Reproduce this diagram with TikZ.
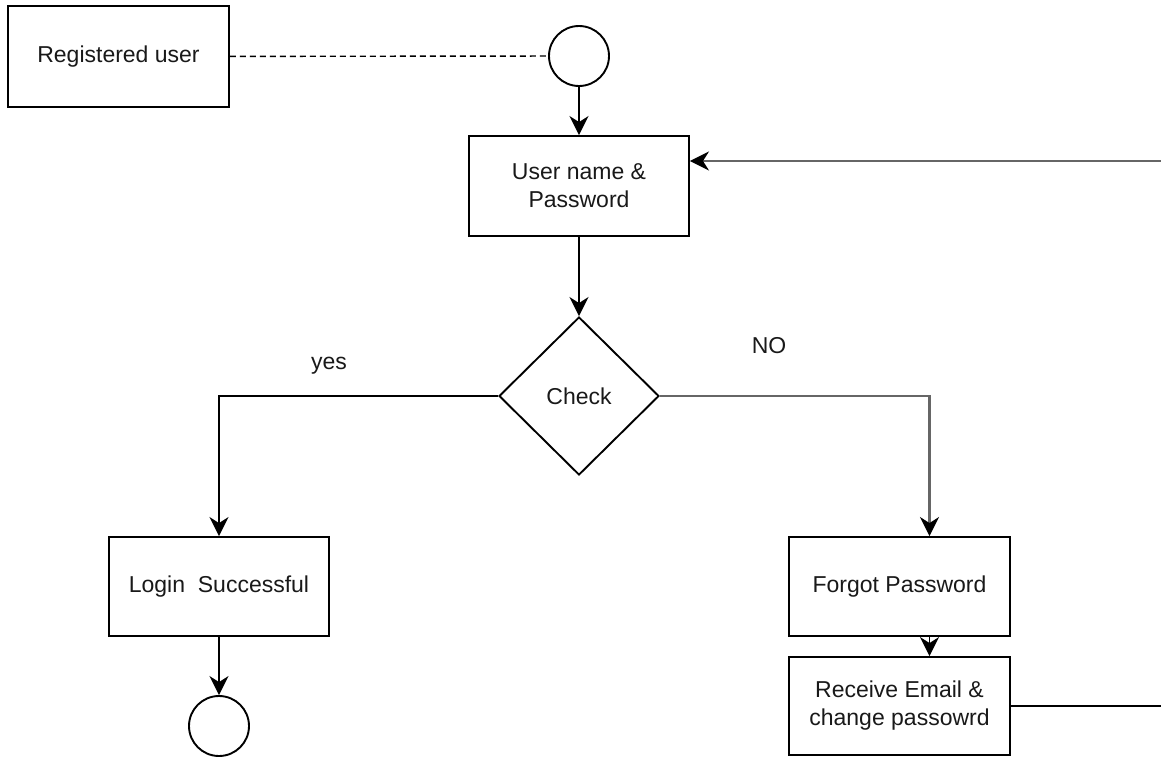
\documentclass[tikz,border=0pt]{standalone}
\usepackage{fontspec}
\setmainfont{Liberation Sans}
\usetikzlibrary{shapes.geometric,arrows.meta}
\begin{document}
\begin{tikzpicture}[x=1pt,y=-1pt,
  font=\fontsize{23}{28}\selectfont,
  line width=1.9pt,
  every node/.style={inner sep=0pt, align=center, text=black!90},
  box/.style={draw, rectangle},
  term/.style={draw, circle, minimum size=60pt},
  decide/.style={draw, diamond, minimum width=160pt, minimum height=158pt},
  arr/.style={-{Stealth[length=19pt,width=19pt,inset=6pt,color=black]}},
  link/.style={draw=black!60, line width=2.4pt},
  lbl/.style={}
]
\useasboundingbox (0,0) rectangle (1161,757);

% boxes and terminals
\node[box, minimum width=221pt, minimum height=101pt] (reg) at (118.5,56.5) {Registered user};
\node[term] (start) at (579,56) {};
\node[box, minimum width=220pt, minimum height=100pt] (user) at (579,186) {User name \&\\Password};
\node[decide] (chk) at (579,396) {Check};
\node[box, minimum width=220pt, minimum height=99pt] (login) at (219,586.5) {Login\ \ Successful};
\node[term] (end) at (219,726) {};
\node[box, minimum width=221pt, minimum height=99pt] (forgot) at (899.5,586.5) {Forgot Password};
\node[box, minimum width=221pt, minimum height=98pt] (rec) at (899.5,706) {Receive Email \&\\change passowrd};

% branch labels
\node[lbl] (yes) at (329,366) {yes};
\node[lbl] (no) at (769,346) {NO};

% loose ends of the return path
\coordinate (retR) at (1161,706);
\coordinate (retT) at (1161,161);

% connectors
\draw[dashed, dash pattern=on 6pt off 4pt, line width=1.4pt] (reg) -- (start);
\draw[arr] (start) -- (user);
\draw[arr] (user) -- (chk);
\draw[arr] (chk.west) -| (login.north);
\draw[arr, link] (chk.east) -| ([xshift=30pt]forgot.north);
\draw[arr] ([xshift=30pt]forgot.south) -- ([xshift=30pt]rec.north);
\draw[arr] (login) -- (end);
\draw (rec.east) -- (rec.east -| retR);
\draw[arr, link] (retT) -- (retT -| user.east);
\end{tikzpicture}
\end{document}
